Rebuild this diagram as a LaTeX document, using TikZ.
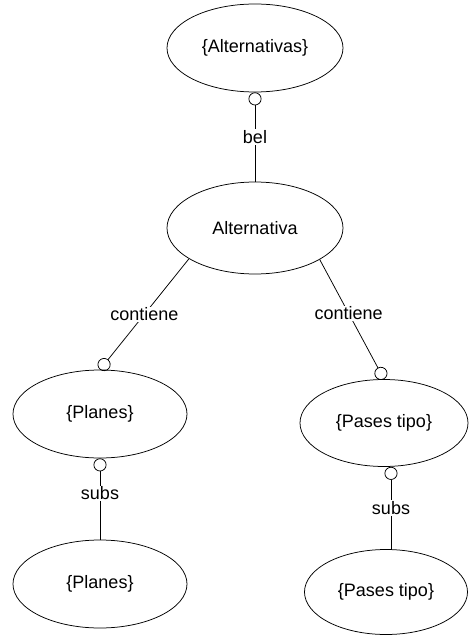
\documentclass[tikz,border=0pt]{standalone}
\usepackage{fontspec}
\setmainfont{Liberation Sans}
\usetikzlibrary{shapes.geometric,arrows.meta,positioning}
\tikzset{>={Circle[open,length=13pt,width=13pt]}}

\begin{document}
\begin{tikzpicture}[font=\fontsize{18}{21}\selectfont, line width=0.75pt]
  \useasboundingbox (-255pt,48pt) rectangle (213pt,-588pt);
  \node[draw, ellipse, minimum width=176pt, minimum height=88pt] (alts) {\{Alternativas\}};
  \node[draw, ellipse, below of=alts, node distance=180pt, minimum width=176pt, minimum height=92pt] (alt) {Alternativa};
  \node[draw, ellipse, below of=alt, node distance=186pt, xshift=-155pt, minimum width=174pt, minimum height=88pt] (pl1) {\{Planes\}};
  \node[draw, ellipse, below of=pl1, node distance=170pt, minimum width=174pt, minimum height=88pt] (pl2) {\{Planes\}};
  \node[draw, ellipse, below of=alt, node distance=195pt, xshift=129pt, minimum width=168pt, minimum height=87pt] (pt1) {\{Pases tipo\}};
  \node[draw, ellipse, below of=pt1, node distance=169pt, xshift=2pt, minimum width=163pt, minimum height=85pt] (pt2) {\{Pases tipo\}};
  \coordinate (aux1) at ([xshift=7pt]pt1.south);
  \draw[->] (alt.north) -- node[fill=white, inner sep=1pt]{bel} (alts.south);
  \draw[->] (alt.-155) -- node[fill=white, inner sep=1pt]{contiene} (pl1.north);
  \draw[->] (alt.-26) -- node[fill=white, inner sep=1pt, pos=0.45]{contiene} (pt1.north);
  \draw[->] (pl2.north) -- node[fill=white, inner sep=1pt, pos=0.57]{subs} (pl1.south);
  \draw[->] (aux1 |- pt2.north) -- node[fill=white, inner sep=1pt]{subs} (aux1);
\end{tikzpicture}
\end{document}
